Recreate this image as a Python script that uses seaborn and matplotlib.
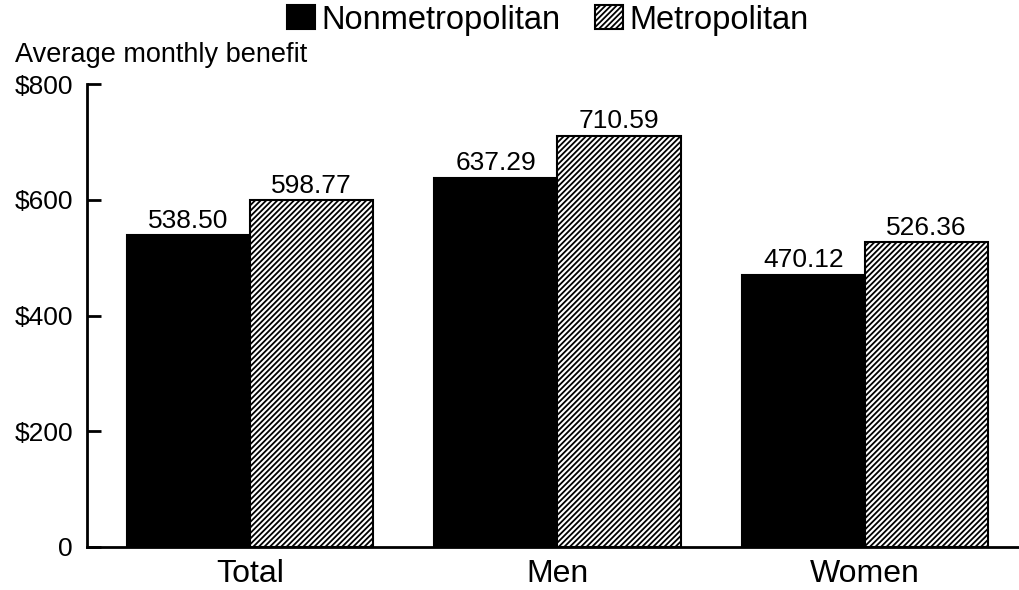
import pandas as pd
import seaborn as sns
import matplotlib.pyplot as plt

# Data
groups = ['Total', 'Men', 'Women']
areas = ['Nonmetropolitan', 'Metropolitan']
nonmetro = [538.50, 637.29, 470.12]
metro = [598.77, 710.59, 526.36]
yticks = [0, 200, 400, 600, 800]
yticklabels = ['0', '$200', '$400', '$600', '$800']

df = pd.DataFrame({
    'group': groups * 2,
    'area': [areas[0]] * 3 + [areas[1]] * 3,
    'benefit': nonmetro + metro,
})

sns.set_style('white')
plt.rcParams['font.family'] = ['Liberation Sans', 'DejaVu Sans']
plt.rcParams['hatch.linewidth'] = 1.3
for k in ['text.color', 'axes.labelcolor', 'xtick.color', 'ytick.color']:
    plt.rcParams[k] = 'black'

fig = plt.figure(figsize=(10.2, 5.9), dpi=100)
ax = fig.add_axes([87 / 1020, 1 - 547 / 590, 1 - 87 / 1020, (547 - 84) / 590])

sns.barplot(data=df, x='group', y='benefit', hue='area', hue_order=areas,
            order=groups, palette=['black', 'white'], width=0.8,
            edgecolor='black', linewidth=1.5, legend=False, ax=ax)

for bar in ax.containers[1]:
    bar.set_hatch('//////')

for cont in ax.containers:
    ax.bar_label(cont, fmt='%.2f', padding=2, fontsize=19)

ax.set_xlim(-0.53, 2.504)
ax.set_ylim(0, 800)
ax.set_yticks(yticks)
ax.set_yticklabels(yticklabels, fontsize=19)
ax.tick_params(axis='y', left=True, direction='in', length=10, width=2, pad=10)
ax.tick_params(axis='x', length=0, labelsize=23, pad=9)
ax.set_xlabel('')
ax.set_ylabel('')
for s in ['top', 'right']:
    ax.spines[s].set_visible(False)
for s in ['left', 'bottom']:
    ax.spines[s].set_linewidth(2)
    ax.spines[s].set_color('black')

fig.text(15 / 1020, 1 - 62 / 590, 'Average monthly benefit', fontsize=19.5,
         va='baseline', ha='left')

fig.legend(handles=[ax.containers[0], ax.containers[1]], labels=areas,
           loc='center', bbox_to_anchor=(0.537, 0.966), ncol=2, frameon=False,
           fontsize=23.5, handlelength=0.85, handleheight=0.75, handletextpad=0.2,
           columnspacing=1.05, borderaxespad=0)

fig.savefig('out.png', dpi=100)
